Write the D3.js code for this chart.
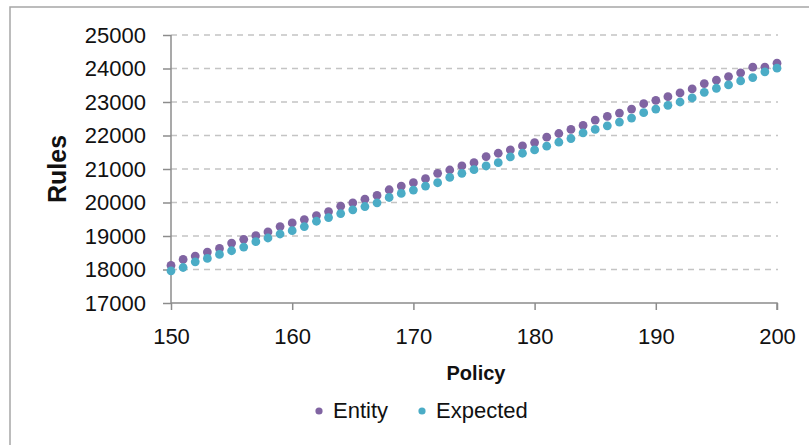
<!DOCTYPE html>
<html>
<head>
<meta charset="utf-8">
<script src="https://cdn.jsdelivr.net/npm/d3@7"></script>
<style>
  html, body { margin: 0; padding: 0; background: #fff; }
  svg { display: block; font-family: "Liberation Sans", Arial, sans-serif; }
</style>
</head>
<body>
<svg id="chart" width="809" height="445"></svg>
<script>
// policy values on the x axis
const policy = [150, 151, 152, 153, 154, 155, 156, 157, 158, 159,
  160, 161, 162, 163, 164, 165, 166, 167, 168, 169,
  170, 171, 172, 173, 174, 175, 176, 177, 178, 179,
  180, 181, 182, 183, 184, 185, 186, 187, 188, 189,
  190, 191, 192, 193, 194, 195, 196, 197, 198, 199, 200];

// series
const entity = [18120, 18300, 18400, 18520, 18630, 18790, 18900, 19010, 19120, 19280,
  19390, 19490, 19610, 19730, 19890, 19990, 20100, 20210, 20380, 20490,
  20590, 20710, 20870, 20970, 21090, 21190, 21370, 21470, 21570, 21690,
  21790, 21950, 22060, 22180, 22300, 22460, 22570, 22670, 22790, 22950,
  23050, 23160, 23270, 23390, 23550, 23650, 23760, 23870, 24040, 24040, 24160];

const expected = [17960, 18060, 18230, 18330, 18450, 18560, 18670, 18830, 18940, 19060,
  19160, 19280, 19440, 19550, 19670, 19780, 19880, 19990, 20150, 20270,
  20370, 20490, 20590, 20750, 20870, 20980, 21090, 21190, 21360, 21470,
  21570, 21680, 21800, 21910, 22080, 22180, 22290, 22400, 22520, 22680,
  22790, 22900, 23000, 23120, 23290, 23410, 23510, 23630, 23730, 23900, 24010];

const xTicks = [150, 160, 170, 180, 190, 200];
const yTicks = [17000, 18000, 19000, 20000, 21000, 22000, 23000, 24000, 25000];

const seriesNames = ['Entity', 'Expected'];
const seriesColors = ['#8064a2', '#4bacc6'];

const svg = d3.select('#chart');

// outer chart border (runs off the right and bottom edges)
svg.append('rect')
  .attr('x', 10).attr('y', 7)
  .attr('width', 820).attr('height', 460)
  .attr('fill', 'none')
  .attr('stroke', '#a6a6a6')
  .attr('stroke-width', 1.5);

const x = d3.scaleLinear().domain([150, 200]).range([171, 777]);
const y = d3.scaleLinear().domain([17000, 25000]).range([303, 35]);

// dashed horizontal gridlines
svg.append('g')
  .selectAll('line')
  .data(yTicks.filter(d => d > 17000))
  .join('line')
  .attr('x1', x(150)).attr('x2', x(200) + 1)
  .attr('y1', d => y(d)).attr('y2', d => y(d))
  .attr('stroke', '#c4c4c4')
  .attr('stroke-width', 1.3)
  .attr('stroke-dasharray', '6,5');

// y axis
const yAxis = svg.append('g')
  .attr('transform', `translate(${x(150)},0)`)
  .call(d3.axisLeft(y).tickValues(yTicks).tickSize(8).tickPadding(17).tickFormat(d3.format('d')));

// x axis
const xAxis = svg.append('g')
  .attr('transform', `translate(0,${y(17000)})`)
  .call(d3.axisBottom(x).tickValues(xTicks).tickSize(7).tickPadding(18).tickFormat(d3.format('d')));

[yAxis, xAxis].forEach(ax => {
  ax.select('.domain').attr('stroke', '#8c8c8c').attr('stroke-width', 1.5);
  ax.selectAll('.tick line').attr('stroke', '#8c8c8c').attr('stroke-width', 1.5);
  ax.selectAll('.tick text')
    .attr('fill', '#111')
    .style('font-size', '22px')
    .style('font-family', '"Liberation Sans", Arial, sans-serif');
});
// plain domain lines without d3's outer ticks
yAxis.select('.domain').attr('d', `M0,${y(17000)}V${y(25000)}`);
xAxis.select('.domain').attr('d', `M${x(150)},0H${x(200)}V7`);

// points
const series = [entity, expected];
series.forEach((vals, i) => {
  svg.append('g')
    .selectAll('circle')
    .data(policy.map((p, j) => ({ p: p, v: vals[j] })))
    .join('circle')
    .attr('cx', d => x(d.p))
    .attr('cy', d => y(d.v))
    .attr('r', 4.4)
    .attr('fill', seriesColors[i]);
});

// axis titles
svg.append('text')
  .attr('transform', 'translate(66,169) rotate(-90)')
  .attr('text-anchor', 'middle')
  .style('font-size', '25px')
  .style('font-weight', 'bold')
  .attr('fill', '#111')
  .text('Rules');

svg.append('text')
  .attr('x', 476).attr('y', 380)
  .attr('text-anchor', 'middle')
  .style('font-size', '20px')
  .style('font-weight', 'bold')
  .attr('fill', '#111')
  .text('Policy');

// legend
const legendX = [319, 422];
const legend = svg.append('g');
seriesNames.forEach((name, i) => {
  legend.append('circle')
    .attr('cx', legendX[i]).attr('cy', 411)
    .attr('r', 3.6)
    .attr('fill', seriesColors[i]);
  legend.append('text')
    .attr('x', legendX[i] + 14).attr('y', 418)
    .style('font-size', '22px')
    .attr('fill', '#111')
    .text(name);
});
</script>
</body>
</html>
